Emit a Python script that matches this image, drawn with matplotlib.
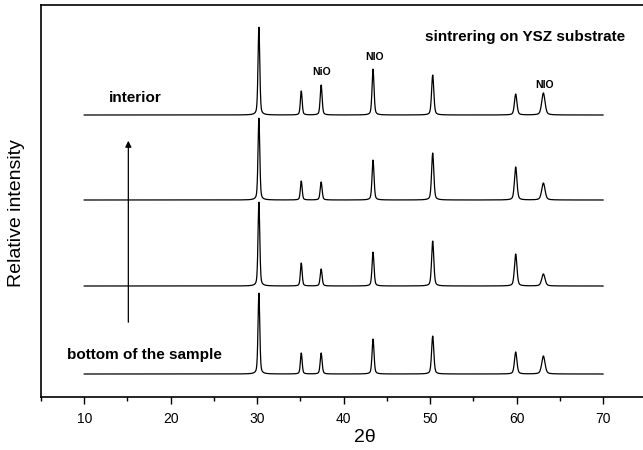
import numpy as np
import matplotlib.pyplot as plt

plt.rcParams['font.family'] = ['Liberation Sans', 'DejaVu Sans']

# peak positions (2theta) and widths (FWHM, deg)
peak_pos = [30.2, 35.1, 37.4, 43.4, 50.3, 59.9, 63.1]
peak_fwhm = [0.24, 0.24, 0.26, 0.27, 0.3, 0.34, 0.45]

# peak heights per trace, bottom -> top (arb. units)
h_bottom = [81, 21, 21, 35, 38, 22, 18]
h_third = [84, 23, 17, 34, 45, 32, 12]
h_second = [82, 19, 18, 40, 47, 33, 17]
h_top = [88, 24, 30, 46, 40, 21, 22]
heights = [h_bottom, h_third, h_second, h_top]
offsets = [0, 88, 174, 259]

x_start, x_end = 10, 70


def pattern(x, hs):
    y = np.zeros_like(x)
    for p, w, h in zip(peak_pos, peak_fwhm, hs):
        g = np.exp(-4 * np.log(2) * ((x - p) / w) ** 2)
        lz = 1 / (1 + 4 * ((x - p) / w) ** 2)
        y += h * (0.6 * g + 0.4 * lz)
    return y


fig = plt.figure(figsize=(6.43, 4.5), dpi=100)
ax = fig.add_axes([41 / 643, 53 / 450, 648.5 / 643, 392 / 450])

x = np.linspace(x_start, x_end, 3000)
for hs, off in zip(heights, offsets):
    ax.plot(x, pattern(x, hs) + off, color='black', lw=0.9)

ax.set_xlim(5, 80)
ax.set_ylim(-23, 369)
ax.set_xticks([10, 20, 30, 40, 50, 60, 70])
ax.set_xticks(np.arange(5, 81, 5), minor=True)
ax.set_yticks([])
ax.tick_params(axis='x', which='major', direction='out', length=5, width=1,
               labelsize=10, pad=6)
ax.tick_params(axis='x', which='minor', direction='out', length=3, width=1)
for s in ax.spines.values():
    s.set_linewidth(1.2)

ax.set_xlabel('2θ', fontsize=14, labelpad=2)
ax.set_ylabel('Relative intensity', fontsize=14)
ax.yaxis.set_label_coords(-0.024, 0.47)

ax.text(49.4, 337, 'sintrering on YSZ substrate', fontsize=11, fontweight='bold',
        va='center', ha='left')
ax.text(37.4, 302, 'NiO', fontsize=7.5, fontweight='bold', ha='center', va='center')
ax.text(43.6, 317, 'NIO', fontsize=7.5, fontweight='bold', ha='center', va='center')
ax.text(63.2, 289, 'NIO', fontsize=7.5, fontweight='bold', ha='center', va='center')
ax.text(12.9, 276, 'interior', fontsize=11, fontweight='bold', ha='left', va='center')
ax.text(8.0, 19, 'bottom of the sample', fontsize=11, fontweight='bold',
        ha='left', va='center')

ax.annotate('', xy=(15.1, 236), xytext=(15.1, 49),
            arrowprops=dict(arrowstyle='-|>', color='black', lw=0.9,
                            mutation_scale=9))

fig.savefig('out.png', dpi=100)
